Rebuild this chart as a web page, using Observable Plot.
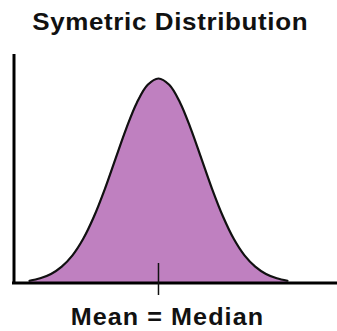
<!DOCTYPE html>
<html>
<head>
<meta charset="utf-8">
<script src="https://cdn.jsdelivr.net/npm/d3@7"></script>
<script src="https://cdn.jsdelivr.net/npm/@observablehq/plot@0.6"></script>
<style>
  html, body { margin: 0; padding: 0; background: #fff; }
  body { width: 337px; height: 331px; overflow: hidden; font-family: "Liberation Sans", Arial, sans-serif; }
  .title {
    height: 36px; padding-top: 10px; padding-left: 3px;
    font-size: 24.5px; line-height: 24px; font-weight: bold; color: #111;
    letter-spacing: 0.6px; text-align: center; white-space: nowrap;
  }
  .caption {
    padding-top: 4px; padding-right: 3px;
    font-size: 23.5px; line-height: 23px; font-weight: bold; color: #111;
    letter-spacing: 1px; text-align: center; white-space: nowrap;
  }
  .title span, .caption span { display: inline-block; transform-origin: 50% 50%; }
  .title span { transform: scaleX(1.06); }
  .caption span { transform: scaleX(1.07); }
  svg { display: block; overflow: visible; }
</style>
</head>
<body>
<div class="title"><span id="title"></span></div>
<div id="chart"></div>
<div class="caption"><span id="caption"></span></div>
<script>
// Standardised positions (in standard deviations from the centre)
const zValues = [-3, -2.75, -2.5, -2.25, -2, -1.75, -1.5, -1.25, -1, -0.75, -0.5, -0.25,
                 0, 0.25, 0.5, 0.75, 1, 1.25, 1.5, 1.75, 2, 2.25, 2.5, 2.75, 3];
// Curve height at each position, relative to the peak
const heights = [0.011, 0.023, 0.044, 0.080, 0.135, 0.216, 0.325, 0.458, 0.607, 0.755, 0.883, 0.969,
                 1.000, 0.969, 0.883, 0.755, 0.607, 0.458, 0.325, 0.216, 0.135, 0.080, 0.044, 0.023, 0.011];
// Centre of the distribution, where mean and median coincide
const centre = [0];
const titleText = "Symetric Distribution";
const centreLabel = "Mean = Median";

const curve = zValues.map((z, i) => ({z, h: heights[i]}));

document.getElementById("title").textContent = titleText;
document.getElementById("caption").textContent = centreLabel;

const chart = Plot.plot({
  width: 337,
  height: 256,
  marginLeft: 13.5,
  marginRight: 0,
  marginTop: 32,
  marginBottom: 19.5,
  x: {domain: [-3.36, 4.163], axis: null},
  y: {domain: [0, 1], axis: null},
  marks: [
    Plot.areaY(curve, {x: "z", y: "h", fill: "#bf80c0", curve: "catmull-rom"}),
    Plot.lineY(curve, {x: "z", y: "h", stroke: "#111", strokeWidth: 2.2, curve: "catmull-rom"}),
    // vertical axis line, running above the peak
    Plot.ruleX([-3.36], {stroke: "#000", strokeWidth: 3, insetTop: -24}),
    // horizontal axis line
    Plot.ruleY([0], {stroke: "#000", strokeWidth: 3, insetLeft: -1.5}),
    // tick marking the centre
    Plot.ruleX(centre, {stroke: "#111", strokeWidth: 1.5, insetTop: 185, insetBottom: -12.5})
  ]
});
document.getElementById("chart").append(chart);
</script>
</body>
</html>
